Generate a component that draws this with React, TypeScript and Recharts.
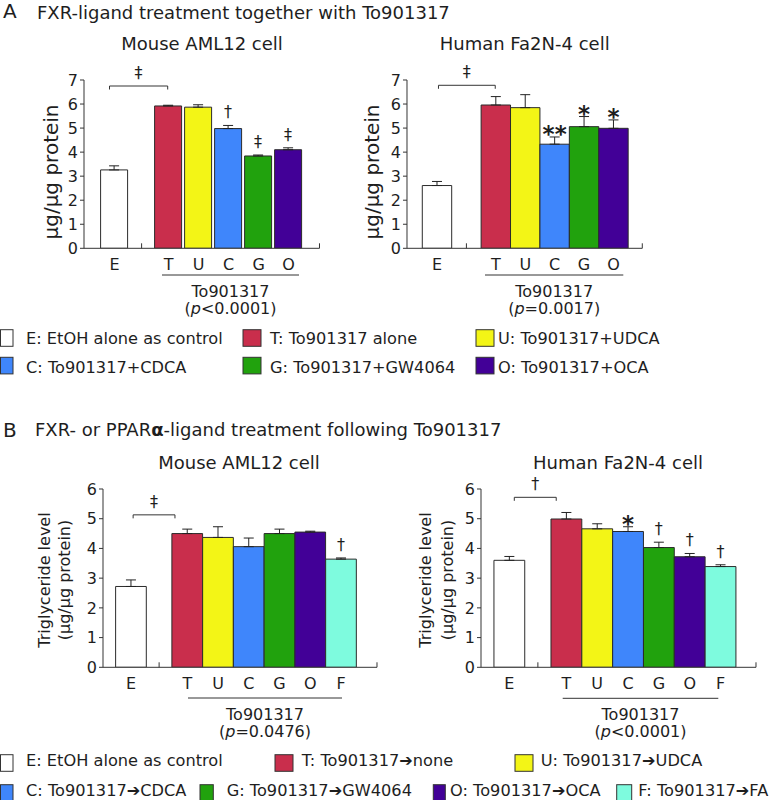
import React from "react";
import { BarChart, Bar, XAxis, YAxis, Cell, ErrorBar, LabelList, ReferenceLine } from "recharts";

const FONT = '"DejaVu Sans", Verdana, sans-serif';
const INK = "#1e1e1e";
const AXIS = "#333";

// categories
const groupsA = ["E", "T", "U", "C", "G", "O"];
const groupsB = ["E", "T", "U", "C", "G", "O", "F"];

// A: FXR ligand together with To901317 (ug/ug protein)
const mouseA = [3.26, 5.92, 5.87, 4.98, 3.84, 4.1];
const mouseAErr = [0.17, 0.03, 0.1, 0.13, 0.04, 0.08];
const mouseASig = ["", "", "", "†", "‡", "‡"];
const humanA = [2.61, 5.96, 5.85, 4.33, 5.06, 4.99];
const humanAErr = [0.17, 0.35, 0.54, 0.3, 0.42, 0.35];
const humanASig = ["", "", "", "**", "*", "*"];

// B: ligand treatment following To901317
const mouseB = [2.72, 4.5, 4.37, 4.06, 4.5, 4.55, 3.64];
const mouseBErr = [0.22, 0.15, 0.36, 0.29, 0.15, 0.03, 0.04];
const mouseBSig = ["", "", "", "", "", "", "†"];
const humanB = [3.6, 4.99, 4.66, 4.57, 4.03, 3.72, 3.39];
const humanBErr = [0.13, 0.22, 0.17, 0.16, 0.18, 0.11, 0.06];
const humanBSig = ["", "", "", "*", "†", "†", "†"];

const yTicksA = [0, 1, 2, 3, 4, 5, 6, 7];
const yTicksB = [0, 1, 2, 3, 4, 5, 6];

const legendA = [
  "E: EtOH alone as control",
  "T: To901317 alone",
  "U: To901317+UDCA",
  "C: To901317+CDCA",
  "G: To901317+GW4064",
  "O: To901317+OCA",
];
const legendB = [
  "E: EtOH alone as control",
  "T: To901317➔none",
  "U: To901317➔UDCA",
  "C: To901317➔CDCA",
  "G: To901317➔GW4064",
  "O: To901317➔OCA",
  "F: To901317➔FA",
];

const fillOf: Record<string, string> = {
  E: "#ffffff",
  T: "#c92e4c",
  U: "#f3f516",
  C: "#3f86fb",
  G: "#21a20d",
  O: "#420097",
  F: "#7efbde",
};

type Lay = {
  left: number; right: number; top: number; bottom: number;
  xMin: number; xMax: number; gap: number; yMax: number; barSize: number;
};

type Brk = { x1: number; x2: number; y: number; mark: string };

function Bracket(p: any) {
  const { x1, y1, x2, mark } = p;
  return (
    <g>
      <path d={`M${x1},${y1 + 3.5} V${y1} H${x2} V${y1 + 3.5}`} fill="none" stroke={AXIS} strokeWidth={1} />
      <text x={(x1 + x2) / 2} y={y1 - 8} textAnchor="middle" fontSize={16} fill={INK}>{mark}</text>
    </g>
  );
}

function Panel({ groups, values, errs, sigs, yTicks, lay, brk }: {
  groups: string[]; values: number[]; errs: number[]; sigs: string[]; yTicks: number[]; lay: Lay; brk: Brk;
}) {
  const rows = groups.map((g, i) => ({
    g,
    pos: i === 0 ? 0 : lay.gap + i - 1,
    value: values[i],
    err: [0, errs[i]],
    sig: sigs[i],
  }));
  const W = lay.right - lay.left + 70;
  const H = lay.bottom - lay.top + 60;
  const ppu = (lay.bottom - lay.top) / lay.yMax;
  const xTicks = [0, lay.gap / 2, ...rows.slice(1).map((r) => r.pos), lay.xMax];

  const renderTick = (p: any) => {
    const { x, y, payload } = p;
    const row = rows.find((r) => Math.abs(r.pos - payload.value) < 1e-6);
    if (row) {
      return (
        <text x={x} y={y + 21.5} textAnchor="middle" fontSize={16} fill={INK}>{row.g}</text>
      );
    }
    return <line x1={x} x2={x} y1={y} y2={y - 5} stroke={AXIS} strokeWidth={1} />;
  };

  const renderSig = (p: any) => {
    const vb = p.viewBox || p;
    const idx = p.index;
    const s = rows[idx] ? rows[idx].sig : "";
    if (!s) return null;
    const cx = vb.x + vb.width / 2;
    const errTop = vb.y - rows[idx].err[1] * ppu;
    if (s.includes("*")) {
      return (
        <text x={cx} y={errTop + 5} textAnchor="middle" fontSize={23} fontWeight="bold" fill={INK}>{s}</text>
      );
    }
    return <text x={cx} y={errTop - 8} textAnchor="middle" fontSize={16} fill={INK}>{s}</text>;
  };

  return (
    <div style={{ position: "absolute", left: lay.left - 60, top: lay.top - 30 }}>
      <BarChart width={W} height={H} data={rows} margin={{ top: 30, right: 10, bottom: 0, left: 0 }}>
        <XAxis
          type="number"
          dataKey="pos"
          domain={[lay.xMin, lay.xMax]}
          ticks={xTicks}
          interval={0}
          height={30}
          tickSize={0}
          tickMargin={0}
          tickLine={false}
          axisLine={{ stroke: AXIS }}
          tick={renderTick}
          allowDataOverflow
        />
        <YAxis
          type="number"
          domain={[0, lay.yMax]}
          ticks={yTicks}
          interval={0}
          width={60}
          tickSize={4}
          tickMargin={2}
          axisLine={{ stroke: AXIS }}
          tickLine={{ stroke: AXIS }}
          tick={{ fontSize: 16, fill: INK }}
          allowDataOverflow
        />
        <ReferenceLine
          segment={[{ x: brk.x1, y: brk.y }, { x: brk.x2, y: brk.y }]}
          ifOverflow="visible"
          shape={(p: any) => <Bracket {...p} mark={brk.mark} />}
        />
        <Bar dataKey="value" barSize={lay.barSize} isAnimationActive={false} stroke="#2a2a2a" strokeWidth={1}>
          {rows.map((r) => (
            <Cell key={r.g} fill={fillOf[r.g]} />
          ))}
          <ErrorBar dataKey="err" direction="y" width={5} stroke="#222" strokeWidth={1} isAnimationActive={false} />
          <LabelList dataKey="sig" content={renderSig} />
        </Bar>
      </BarChart>
    </div>
  );
}

const layAL: Lay = { left: 83.5, right: 319, top: 80, bottom: 248.3, xMin: -1.02, xMax: 6.83, gap: 1.8, yMax: 7, barSize: 30 };
const layAR: Lay = { left: 406.7, right: 642, top: 80, bottom: 248.3, xMin: -1.02, xMax: 6.98, gap: 2.0, yMax: 7, barSize: 29.4 };
const layBL: Lay = { left: 103, right: 377, top: 489, bottom: 667.3, xMin: -0.91, xMax: 8.0, gap: 1.83, yMax: 6, barSize: 30.7 };
const layBR: Lay = { left: 480.7, right: 755.7, top: 489, bottom: 667.3, xMin: -0.92, xMax: 8.0, gap: 1.85, yMax: 6, barSize: 30.8 };

function GroupLabel({ x1, x2, y, p }: { x1: number; x2: number; y: number; p: [string, string] }) {
  const cx = (x1 + x2) / 2;
  return (
    <g fill={INK} fontSize={16} textAnchor="middle">
      <line x1={x1} x2={x2} y1={y} y2={y} stroke={AXIS} strokeWidth={1} />
      <text x={cx} y={y + 21.5}>To901317</text>
      <text x={cx} y={y + 39}>
        (<tspan fontStyle="italic">p</tspan>{p[0]}{p[1]})
      </text>
    </g>
  );
}

function Swatch({ x, y, w, h, c }: { x: number; y: number; w: number; h: number; c: string }) {
  return <rect x={x} y={y} width={w} height={h} fill={c} stroke="#333" strokeWidth={1} />;
}

export default function App() {
  const legARows = [
    { sx: [0.5, 243, 476], sw: [12.5, 18, 18], tx: [26, 270, 498], y: 329.7, base: 344, items: legendA.slice(0, 3) },
    { sx: [0.5, 243, 476], sw: [12.5, 18, 18], tx: [26, 270, 498], y: 357.3, base: 373, items: legendA.slice(3) },
  ];
  const legBRows = [
    { sx: [0.5, 275, 515], sw: [12.5, 18, 18], tx: [26, 301.7, 540.7], y: 754.7, base: 766.3, items: legendB.slice(0, 3) },
    { sx: [0.5, 200, 433.3, 616.7], sw: [12.5, 13.3, 12, 15], tx: [26, 226.7, 450, 638.3], y: 784.7, base: 796, items: legendB.slice(3) },
  ];
  return (
    <div
      style={{
        position: "absolute",
        left: 0,
        top: 0,
        width: 782,
        height: 800,
        background: "#fff",
        fontFamily: FONT,
        overflow: "hidden",
      }}
    >
      <Panel groups={groupsA} values={mouseA} errs={mouseAErr} sigs={mouseASig} yTicks={yTicksA} lay={layAL}
        brk={{ x1: -0.17, x2: 1.77, y: 6.75, mark: "‡" }} />
      <Panel groups={groupsA} values={humanA} errs={humanAErr} sigs={humanASig} yTicks={yTicksA} lay={layAR}
        brk={{ x1: 0.05, x2: 1.98, y: 6.78, mark: "‡" }} />
      <Panel groups={groupsB} values={mouseB} errs={mouseBErr} sigs={mouseBSig} yTicks={yTicksB} lay={layBL}
        brk={{ x1: 0.07, x2: 1.43, y: 5.13, mark: "‡" }} />
      <Panel groups={groupsB} values={humanB} errs={humanBErr} sigs={humanBSig} yTicks={yTicksB} lay={layBR}
        brk={{ x1: 0.16, x2: 1.52, y: 5.72, mark: "†" }} />

      <svg width={782} height={800} style={{ position: "absolute", left: 0, top: 0, pointerEvents: "none" }}>
        {/* section A */}
        <text x={3} y={18} fontSize={20} fill={INK}>A</text>
        <text x={37} y={18.5} fontSize={18} fill={INK}>FXR-ligand treatment together with To901317</text>
        <text x={202} y={50} fontSize={18} fill={INK} textAnchor="middle">Mouse AML12 cell</text>
        <text x={524.7} y={50} fontSize={18} fill={INK} textAnchor="middle">Human Fa2N-4 cell</text>
        <text transform="translate(58,172) rotate(-90)" fontSize={20} fill={INK} textAnchor="middle">μg/μg protein</text>
        <text transform="translate(379,172) rotate(-90)" fontSize={20} fill={INK} textAnchor="middle">μg/μg protein</text>
        <GroupLabel x1={162} x2={299} y={275} p={["<", "0.0001"]} />
        <GroupLabel x1={485} x2={623.3} y={275} p={["=", "0.0017"]} />

        {legARows.map((row, ri) =>
          row.items.map((t, i) => (
            <g key={`a${ri}${i}`}>
              <Swatch x={row.sx[i]} y={row.y} w={row.sw[i]} h={16.6} c={fillOf[t[0]]} />
              <text x={row.tx[i]} y={row.base} fontSize={16.2} fill={INK}>{t}</text>
            </g>
          ))
        )}

        {/* section B */}
        <text x={3} y={437} fontSize={20} fill={INK}>B</text>
        <text x={35} y={436} fontSize={18} fill={INK}>
          FXR- or PPAR<tspan fontWeight="bold">α</tspan>-ligand treatment following To901317
        </text>
        <text x={239} y={469.3} fontSize={18} fill={INK} textAnchor="middle">Mouse AML12 cell</text>
        <text x={618} y={469.3} fontSize={18} fill={INK} textAnchor="middle">Human Fa2N-4 cell</text>
        <text transform="translate(49.5,580) rotate(-90)" fontSize={16} fill={INK} textAnchor="middle">Triglyceride level</text>
        <text transform="translate(70,580) rotate(-90)" fontSize={16} fill={INK} textAnchor="middle">(μg/μg protein)</text>
        <text transform="translate(431,580) rotate(-90)" fontSize={16} fill={INK} textAnchor="middle">Triglyceride level</text>
        <text transform="translate(453,580) rotate(-90)" fontSize={16} fill={INK} textAnchor="middle">(μg/μg protein)</text>
        <GroupLabel x1={188} x2={342} y={698} p={["=", "0.0476"]} />
        <GroupLabel x1={562.7} x2={718.3} y={698.3} p={["<", "0.0001"]} />

        {legBRows.map((row, ri) =>
          row.items.map((t, i) => (
            <g key={`b${ri}${i}`}>
              <Swatch x={row.sx[i]} y={row.y} w={row.sw[i]} h={16.6} c={fillOf[t[0]]} />
              <text x={row.tx[i]} y={row.base} fontSize={16.2} fill={INK}>{t}</text>
            </g>
          ))
        )}
      </svg>
    </div>
  );
}
